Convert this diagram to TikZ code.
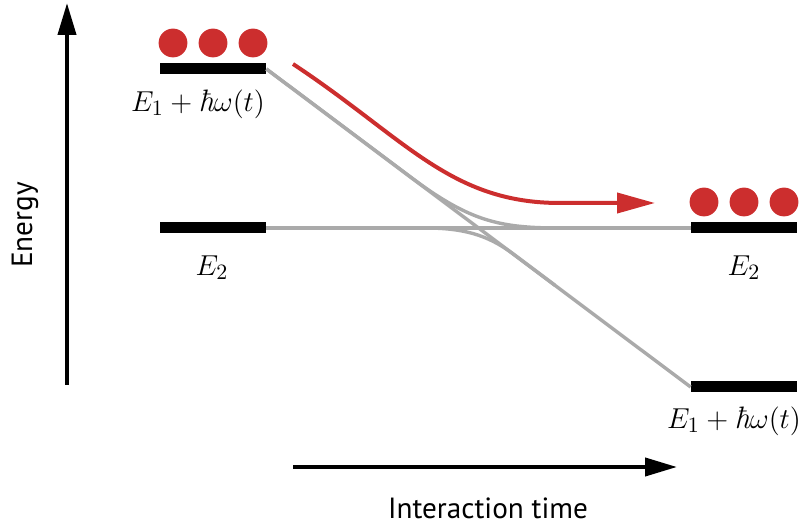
\documentclass[tikz,border=0pt]{standalone}
\usepackage{fontspec}
\newfontfamily\axisfont{PT Sans}
\usetikzlibrary{arrows.meta,positioning,calc}
\definecolor{popred}{RGB}{204,46,46}
\definecolor{levelgray}{RGB}{170,170,170}
\newcommand{\hb}{\textit{ħ}}

\begin{document}
\begin{tikzpicture}[x=0.5pt,y=-0.5pt,
  level/.style={fill=black,inner sep=0pt,minimum width=53pt,minimum height=5.5pt},
  atom/.style={circle,fill=popred,inner sep=0pt,minimum size=14.4pt},
  lab/.style={font=\fontsize{15.5}{18}\selectfont,inner sep=0pt},
  axlab/.style={font=\axisfont\fontsize{14.6}{17}\selectfont,inner sep=0pt},
  axis/.style={line width=2pt,-{Triangle[length=16pt,width=9pt]}},
  curve/.style={levelgray,line width=1.7pt}]
  \useasboundingbox (0,0) rectangle (804,529);
  % energy levels
  \node[level](l1) at (213,69){};
  \node[level](l2) at (213,228){};
  \node[level](r2) at (744,228){};
  \node[level](r1) at (744,387){};
  \foreach \x/\n in {173/a,213/b,253/c}{\node[atom](la\n) at (\x,43){};}
  \foreach \x/\n in {704/a,744/b,784/c}{\node[atom](ra\n) at (\x,202){};}
  \node[lab](tl1) at (198,104){$E_1+\hb\omega(t)$};
  \node[lab](tl2) at (212,268){$E_2$};
  \node[lab](tr2) at (744,268){$E_2$};
  \node[lab](tr1) at (734,421){$E_1+\hb\omega(t)$};
  % crossing
  \coordinate (d1) at ($(l1.east)!0.34!(r1.west)$);
  \coordinate (d2) at ($(l1.east)!0.48!(r1.west)$);
  \coordinate (d3) at ($(l1.east)!0.52!(r1.west)$);
  \coordinate (d4) at ($(l1.east)!0.58!(r1.west)$);
  \coordinate (d5) at ($(l1.east)!0.68!(r1.west)$);
  \coordinate (h1) at (360,228);\coordinate (h2) at (425,228);
  \coordinate (h3) at (560,228);\coordinate (h4) at (620,228);
  \draw[curve](l1.east)--(r1.west);
  \draw[curve](l2.east)--(r2.west);
  \draw[curve](l1.east)--(d1) .. controls (d2) and (500,228) .. (h3)--(h4);
  \draw[curve](h1)--(h2) .. controls (462,228) and (d3) .. (d4)--(d5);
  % population transfer
  \coordinate (p0) at (293,64);\coordinate (p1) at (560,203);\coordinate (p2) at (655,203);
  \draw[popred,line width=2pt,-{Triangle[length=19pt,width=10pt]}](p0) .. controls (405,138) and (450,203) .. (p1)--(p2);
  % axes
  \coordinate (e0) at (67,385);\coordinate (e1) at (67,3);
  \coordinate (t0) at (293,467);\coordinate (t1) at (677,467);
  \draw[axis](e0)--(e1);
  \draw[axis](t0)--(t1);
  \node[axlab,rotate=90](en) at (25,225){Energy};
  \node[axlab](it) at (488,508){Interaction time};
\end{tikzpicture}
\end{document}
